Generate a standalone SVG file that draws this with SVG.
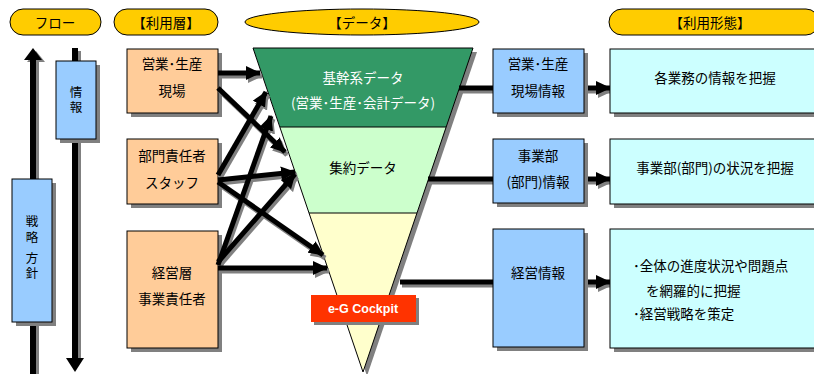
<svg xmlns="http://www.w3.org/2000/svg" width="814" height="374" viewBox="0 0 814 374">
<defs>
<style>
text{font-family:"Noto Sans CJK JP","Liberation Sans",sans-serif;font-size:13.5px;fill:#000;text-anchor:middle;dominant-baseline:central}
.v{font-size:12.5px;writing-mode:vertical-rl;letter-spacing:3px}
.pill{fill:#FFCC00;stroke:#000;stroke-width:1}
.sh{fill:#808080}
.org{fill:#FFCC99;stroke:#000;stroke-width:1}
.blu{fill:#99CCFF;stroke:#000;stroke-width:1}
.cyn{fill:#CCFFFF;stroke:#000;stroke-width:1}
.ln{stroke:#000;stroke-width:5;fill:none}
.lns{stroke:#808080;stroke-width:5;fill:none}
.w{fill:#fff}
</style>
<marker id="ah" markerUnits="userSpaceOnUse" markerWidth="15" markerHeight="14" refX="14" refY="7" orient="auto"><path d="M0,0L15,7L0,14z" fill="#000"/></marker>
<marker id="ahs" markerUnits="userSpaceOnUse" markerWidth="15" markerHeight="14" refX="14" refY="7" orient="auto"><path d="M0,0L15,7L0,14z" fill="#808080"/></marker>
</defs>
<rect width="814" height="374" fill="#fff"/>

<g id="headers">
<rect class="pill" x="10" y="9" width="91" height="26" rx="13"/>
<text x="55" y="22">フロー</text>
<rect class="pill" x="114" y="9" width="104" height="26" rx="13"/>
<text x="166" y="22">【利用層】</text>
<ellipse class="pill" cx="362" cy="22" rx="117" ry="13"/>
<text x="362" y="22">【データ】</text>
<rect class="pill" x="609" y="9" width="210" height="26" rx="13"/>
<text x="710" y="22">【利用形態】</text>
</g>

<g id="flow">
<line x1="36" y1="374" x2="36" y2="62" stroke="#808080" stroke-width="6"/>
<path d="M27,62L36,51L45,62z" fill="#808080"/>
<line x1="33" y1="374" x2="33" y2="59" stroke="#000" stroke-width="6"/>
<path d="M24,60L33,48L42,60z" fill="#000"/>
<line x1="78" y1="51" x2="78" y2="362" stroke="#808080" stroke-width="6"/>
<line x1="75" y1="48" x2="75" y2="360" stroke="#000" stroke-width="6"/>
<path d="M66,358L75,372L84,358z" fill="#000"/>
</g>

<g id="node-joho">
<rect class="sh" x="60" y="65" width="40" height="78"/>
<rect class="blu" x="56" y="61" width="40" height="78"/>
<text class="v" x="76" y="101">情報</text>
</g>

<g id="node-senryaku">
<rect class="sh" x="16" y="183" width="40" height="143"/>
<rect class="blu" x="12" y="179" width="40" height="143"/>
<text class="v" x="32" y="249">戦略 方針</text>
</g>

<g id="node-genba">
<rect class="sh" x="131" y="53" width="91" height="64"/>
<rect class="org" x="127" y="49" width="91" height="64"/>
<text x="172" y="63">営業･生産</text>
<text x="172" y="90">現場</text>
</g>
<g id="node-bumon">
<rect class="sh" x="131" y="143" width="91" height="65"/>
<rect class="org" x="127" y="139" width="91" height="65"/>
<text x="172" y="155">部門責任者</text>
<text x="172" y="182">スタッフ</text>
</g>
<g id="node-keiei">
<rect class="sh" x="131" y="235" width="91" height="117"/>
<rect class="org" x="127" y="231" width="91" height="117"/>
<text x="172" y="272">経営層</text>
<text x="172" y="298">事業責任者</text>
</g>

<g id="funnel">
<path d="M257,52L477,52L367,376z" fill="#808080"/>
<path d="M253,48L473,48L446,127L280,127z" fill="#339966"/>
<path d="M280,127L446,127L417,213L309,213z" fill="#CCFFCC"/>
<path d="M309,213L417,213L363,372z" fill="#FFFFCC"/>
<path d="M253,48L473,48L363,372z" fill="none" stroke="#000" stroke-width="1"/>
<line x1="280" y1="127" x2="446" y2="127" stroke="#000" stroke-width="1"/>
<line x1="309" y1="213" x2="417" y2="213" stroke="#000" stroke-width="1"/>
<text class="w" x="363" y="77">基幹系データ</text>
<text class="w" x="363" y="102">(営業･生産･会計データ)</text>
<text x="363" y="167">集約データ</text>
</g>

<g id="connectors">
<g class="lns" marker-end="url(#ahs)" transform="translate(2,3)">
<line x1="218" y1="73" x2="260" y2="73"/>
<line x1="218" y1="88" x2="285" y2="152"/>
<line x1="218" y1="180" x2="295" y2="172"/>
<line x1="218" y1="175" x2="266" y2="92"/>
<line x1="218" y1="182" x2="323" y2="255"/>
<line x1="218" y1="268" x2="327" y2="268"/>
<line x1="218" y1="262" x2="295" y2="174"/>
<line x1="218" y1="265" x2="271" y2="116"/>
<line x1="584" y1="88" x2="610" y2="88"/>
<line x1="584" y1="179" x2="610" y2="179"/>
<line x1="584" y1="282" x2="610" y2="282"/>
</g>
<g class="lns" transform="translate(2,3)">
<line x1="459" y1="88" x2="493" y2="88"/>
<line x1="428" y1="179" x2="493" y2="179"/>
<line x1="400" y1="282" x2="493" y2="282"/>
</g>
<g class="ln" marker-end="url(#ah)">
<line x1="218" y1="73" x2="260" y2="73"/>
<line x1="218" y1="88" x2="285" y2="152"/>
<line x1="218" y1="180" x2="295" y2="172"/>
<line x1="218" y1="175" x2="266" y2="92"/>
<line x1="218" y1="182" x2="323" y2="255"/>
<line x1="218" y1="268" x2="327" y2="268"/>
<line x1="218" y1="262" x2="295" y2="174"/>
<line x1="218" y1="265" x2="271" y2="116"/>
<line x1="584" y1="88" x2="610" y2="88"/>
<line x1="584" y1="179" x2="610" y2="179"/>
<line x1="584" y1="282" x2="610" y2="282"/>
</g>
<g class="ln">
<line x1="459" y1="88" x2="493" y2="88"/>
<line x1="428" y1="179" x2="493" y2="179"/>
<line x1="400" y1="282" x2="493" y2="282"/>
</g>
</g>

<g id="node-cockpit">
<rect class="sh" x="314" y="298" width="105" height="27"/>
<rect x="311" y="295" width="105" height="27" fill="#FF3300"/>
<text x="363" y="309" style="font-family:'Liberation Sans',Arial,sans-serif;font-weight:bold;font-size:12.5px;fill:#fff">e-G  Cockpit</text>
</g>

<g id="node-genba-joho">
<rect class="sh" x="497" y="53" width="91" height="64"/>
<rect class="blu" x="493" y="49" width="91" height="64"/>
<text x="538" y="63">営業･生産</text>
<text x="538" y="90">現場情報</text>
</g>
<g id="node-jigyobu-joho">
<rect class="sh" x="497" y="143" width="91" height="64"/>
<rect class="blu" x="493" y="139" width="91" height="64"/>
<text x="538" y="155">事業部</text>
<text x="538" y="181">(部門)情報</text>
</g>
<g id="node-keiei-joho">
<rect class="sh" x="497" y="233" width="91" height="118"/>
<rect class="blu" x="493" y="229" width="91" height="118"/>
<text x="538" y="272">経営情報</text>
</g>

<g id="node-usage1">
<rect class="sh" x="614" y="53" width="210" height="64"/>
<rect class="cyn" x="610" y="49" width="210" height="64"/>
<text x="715" y="77">各業務の情報を把握</text>
</g>
<g id="node-usage2">
<rect class="sh" x="614" y="143" width="210" height="65"/>
<rect class="cyn" x="610" y="139" width="210" height="65"/>
<text x="715" y="167">事業部(部門)の状況を把握</text>
</g>
<g id="node-usage3">
<rect class="sh" x="614" y="233" width="210" height="119"/>
<rect class="cyn" x="610" y="229" width="210" height="119"/>
<text x="633" y="265" style="text-anchor:start">･全体の進度状況や問題点</text>
<text x="646" y="290" style="text-anchor:start">を網羅的に把握</text>
<text x="633" y="313" style="text-anchor:start">･経営戦略を策定</text>
</g>
</svg>
